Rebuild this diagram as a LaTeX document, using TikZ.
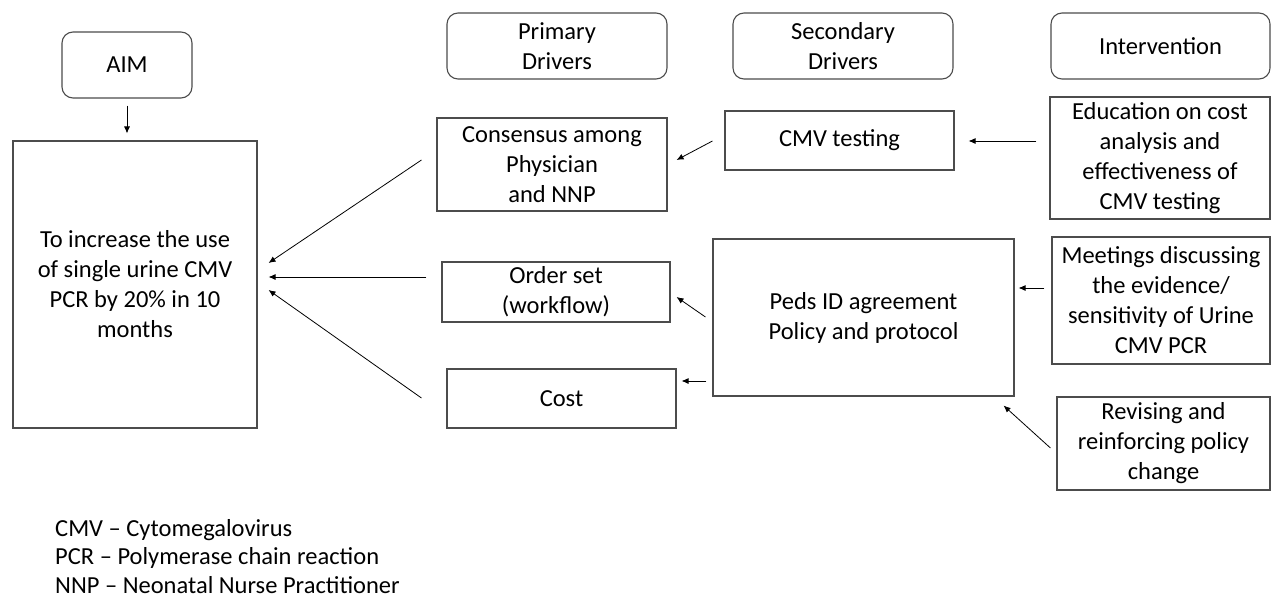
\documentclass[tikz,border=0pt]{standalone}
\usepackage{fontspec}
\setmainfont{Carlito}
\usetikzlibrary{arrows.meta,calc}
\begin{document}
\begin{tikzpicture}[x=1pt,y=-1pt,
  box/.style={draw=black!70,line width=1.1pt,inner sep=0pt,align=center,
    font=\fontsize{24.5}{30}\selectfont},
  hdr/.style={box,rounded corners=11pt},
  arr/.style={draw=black,line width=0.8pt,-{Latex[length=7pt,width=6pt]}}]
\useasboundingbox (0,0) rectangle (1271,597);
% header boxes
\node[hdr,minimum width=130pt,minimum height=66pt] (aimh) at (127,65) {AIM};
\node[hdr,minimum width=220pt,minimum height=66pt] (prim) at (557,46) {Primary\\Drivers};
\node[hdr,minimum width=220pt,minimum height=66pt] (sec) at (843,46) {Secondary\\Drivers};
\node[hdr,minimum width=219pt,minimum height=66pt] (intv) at (1160.5,46) {Intervention};
% aim
\node[box,minimum width=244pt,minimum height=287pt] (aim) at (135,284.5)
  {To increase the use\\of single urine CMV\\PCR by 20\% in 10\\months};
% primary drivers
\node[box,minimum width=230pt,minimum height=93pt] (cons) at (552,164.5)
  {Consensus among\\Physician\\and NNP};
\node[box,minimum width=228pt,minimum height=60pt] (order) at (556,292)
  {Order set\\(workflow)};
\node[box,minimum width=229pt,minimum height=59pt] (cost) at (561.5,398.5) {Cost};
% secondary drivers
\node[box,minimum width=229pt,minimum height=59pt] (cmv) at (839.5,140.5) {CMV testing};
\node[box,minimum width=301pt,minimum height=157pt] (peds) at (863.5,317.5)
  {Peds ID agreement\\Policy and protocol};
% interventions
\node[box,minimum width=220pt,minimum height=122pt] (edu) at (1160,158)
  {Education on cost\\analysis and\\effectiveness of\\CMV testing};
\node[box,minimum width=218pt,minimum height=127pt] (meet) at (1161,300.5)
  {Meetings discussing\\the evidence/\\sensitivity of Urine\\CMV PCR};
\node[box,minimum width=213pt,minimum height=93pt] (rev) at (1163.5,443.5)
  {Revising and\\reinforcing policy\\change};
% legend
\node[anchor=base west,inner sep=0pt,align=left,
  font=\fontsize{24.5}{28.5}\selectfont] (leg) at (55,593)
  {CMV – Cytomegalovirus\\PCR – Polymerase chain reaction\\NNP – Neonatal Nurse Practitioner};
% connectors
\draw[arr] ($(aimh.south)+(0,7)$) -- ($(aimh.south |- aim.north)+(0,-7)$);
\draw[arr] ($(cmv.west)+(-12,0.5)$) -- ($(cons.east)+(9,-4.5)$);
\draw[arr] ($(edu.west)+(-13,-17)$) -- ($(cmv.east)+(14,0.5)$);
\draw[arr] ($(meet.west)+(-7,-12.5)$) -- ($(peds.east)+(4,-29.5)$);
\draw[arr] ($(rev.west)+(-6,4.5)$) -- ($(peds.south east)+(-11,9)$);
\draw[arr] ($(peds.west)+(-7,-0.5)$) -- ($(order.east)+(6,5)$);
\draw[arr] ($(peds.west)+(-6,63.5)$) -- ($(cost.east)+(5,-17.5)$);
\draw[arr] ($(cons.west)+(-15,-4.5)$) -- ($(aim.east)+(11,-21.5)$);
\draw[arr] ($(order.west)+(-15,-15)$) -- ($(aim.east)+(11,-7.5)$);
\draw[arr] ($(cost.west)+(-25,-0.5)$) -- ($(aim.east)+(11,5.5)$);
\end{tikzpicture}
\end{document}
